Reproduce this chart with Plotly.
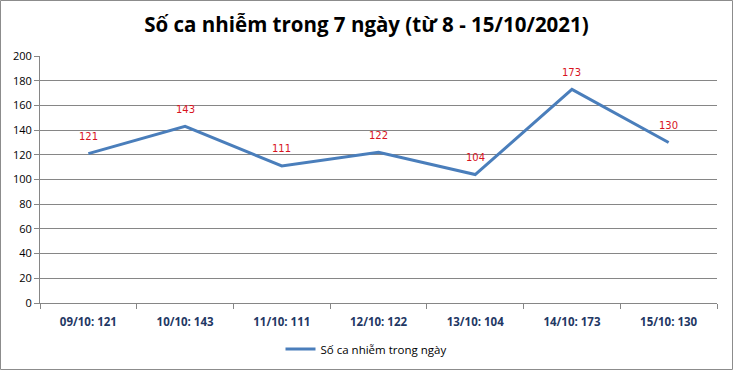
import plotly.graph_objects as go

categories = ["09/10: 121", "10/10: 143", "11/10: 111", "12/10: 122", "13/10: 104", "14/10: 173", "15/10: 130"]
values = [121, 143, 111, 122, 104, 173, 130]
series_name = "Số ca nhiễm trong ngày"
title_text = "Số ca nhiễm trong 7 ngày (từ 8 - 15/10/2021)"
y_ticks = [0, 20, 40, 60, 80, 100, 120, 140, 160, 180, 200]

W, H = 733, 370
ml, mr, mt, mb = 40, 16, 56, 67
pw, ph = W - ml - mr, H - mt - mb

fig = go.Figure()
fig.add_trace(go.Scatter(
    x=categories, y=values, mode="lines", name=series_name,
    line=dict(color="#4A7EBB", width=3),
))

for c, v in zip(categories, values):
    fig.add_annotation(x=c, y=v, text=str(v), showarrow=False, yshift=17,
                       font=dict(family="DejaVu Sans", size=10, color="#D8141E"))

fig.add_shape(type="rect", xref="paper", yref="paper",
              x0=(0.5 - ml) / pw, x1=(W - 0.5 - ml) / pw,
              y0=(ph + mt - H + 0.5) / ph, y1=(ph + mt - 0.5) / ph,
              line=dict(color="#8C8C8C", width=1), layer="below")

fig.update_layout(
    width=W, height=H,
    margin=dict(l=ml, r=mr, t=mt, b=mb, autoexpand=False),
    paper_bgcolor="white", plot_bgcolor="white",
    title=dict(text="<b>" + title_text + "</b>", x=0.5, xref="container", xanchor="center",
               y=1 - 25 / H, yanchor="middle",
               font=dict(family="Open Sans", size=20.5, color="black")),
    showlegend=True,
    legend=dict(orientation="h", x=(366 - ml) / pw, xanchor="center", xref="paper",
                y=-(349 - 303) / ph, yanchor="middle",
                font=dict(family="Open Sans", size=11.5, color="black"),
                itemwidth=30),
    xaxis=dict(
        type="category", showgrid=False, showline=True, linecolor="#868686", linewidth=1,
        ticks="outside", tickson="boundaries", ticklen=5, tickcolor="#868686",
        tickfont=dict(family="Open Sans", size=11.5, color="#1F3864", weight="bold"),
        ticklabelstandoff=8, automargin=False,
        range=[-0.5, 6.5],
    ),
    yaxis=dict(
        range=[0, 200], tickvals=y_ticks, showgrid=True, gridcolor="#868686", gridwidth=1,
        showline=True, linecolor="#868686", linewidth=1,
        ticks="outside", ticklen=5, tickcolor="#868686",
        tickfont=dict(family="Open Sans", size=11, color="black"),
        zeroline=False, automargin=False,
    ),
)

fig.write_html("out.html", config={"displayModeBar": False},
               post_script="document.body.style.margin='0';")
